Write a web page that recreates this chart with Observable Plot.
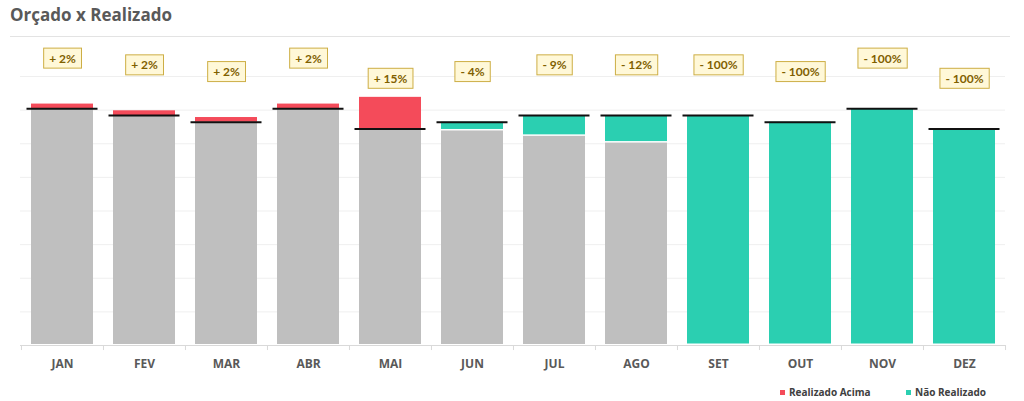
<!DOCTYPE html>
<html>
<head>
<meta charset="utf-8">
<script src="https://cdn.jsdelivr.net/npm/d3@7"></script>
<script src="https://cdn.jsdelivr.net/npm/@observablehq/plot@0.6"></script>
<style>
  html, body { margin: 0; padding: 0; background: #ffffff; }
  body { position: relative; width: 1024px; height: 401px; overflow: hidden; font-family: "Open Sans", sans-serif; }
  #title { position: absolute; left: 10px; top: 3px; font-size: 17px; line-height: 24px; font-weight: 700; color: #595959; }
  #rule { position: absolute; left: 10px; top: 36px; width: 1000px; height: 1px; background: #e3e3e3; }
  #chart { position: absolute; left: 0; top: 37px; }
  #legend { position: absolute; top: 384px; left: 0; width: 1024px; height: 16px; font-size: 10px; font-weight: 700; color: #404040; }
  .item { position: absolute; display: flex; align-items: center; line-height: 16px; }
  .sw { width: 5px; height: 5px; margin-right: 4px; }
</style>
</head>
<body>
<div id="title">Orçado x Realizado</div>
<div id="rule"></div>
<div id="chart"></div>
<div id="legend">
  <div class="item" style="left:780px"><span class="sw" style="background:#F44B5A"></span>Realizado Acima</div>
  <div class="item" style="left:906px"><span class="sw" style="background:#2BCFB1"></span>Não Realizado</div>
</div>
<script>
const meses = ["JAN","FEV","MAR","ABR","MAI","JUN","JUL","AGO","SET","OUT","NOV","DEZ"];
const orcado = [352, 342, 332, 352, 322, 332, 342, 342, 342, 332, 352, 322];
const realizado = [359, 349, 339, 359, 369, 319, 311, 301, 0, 0, 0, 0];
const rotulos = ["+ 2%","+ 2%","+ 2%","+ 2%","+ 15%","- 4%","- 9%","- 12%","- 100%","- 100%","- 100%","- 100%"];
const gradeY = [50, 100, 150, 200, 250, 300, 350, 400];

const dados = meses.map((m, i) => ({mes: m, orcado: orcado[i], realizado: realizado[i], rotulo: rotulos[i]}));
const base = dados.filter(d => d.realizado > 0).map(d => ({mes: d.mes, v: Math.min(d.orcado, d.realizado)}));
const acima = dados.filter(d => d.realizado > d.orcado);
const abaixo = dados.filter(d => d.realizado < d.orcado);

const W = 1024, H = 340, mL = 20, mR = 19;
const step = (W - mL - mR) / meses.length;

const plot = Plot.plot({
  width: W,
  height: H,
  marginLeft: mL,
  marginRight: mR,
  marginTop: 39,
  marginBottom: 32,
  style: {fontFamily: "Open Sans, sans-serif", background: "transparent"},
  x: {domain: meses, paddingInner: 0.245, paddingOuter: 0.1225, label: null},
  y: {domain: [0, 400], axis: null},
  marks: [
    Plot.ruleY(gradeY, {stroke: "#efefef", strokeWidth: 1}),
    Plot.barY(base, {x: "mes", y: "v", fill: "#BFBFBF", insetBottom: 1}),
    Plot.barY(acima, {x: "mes", y1: "orcado", y2: "realizado", fill: "#F44B5A"}),
    Plot.barY(abaixo, {x: "mes", y1: "realizado", y2: "orcado", fill: "#2BCFB1", insetBottom: 1.5}),
    Plot.ruleY([0], {stroke: "#d9d9d9", strokeWidth: 1}),
    Plot.ruleX(meses, {x: d => d, y1: 0, y2: -7.5, dx: -step / 2, stroke: "#d9d9d9"}),
    Plot.ruleX(meses.slice(-1), {x: d => d, y1: 0, y2: -7.5, dx: step / 2, stroke: "#d9d9d9"}),
    Plot.tickY(dados, {x: "mes", y: "orcado", stroke: "#111111", strokeWidth: 2, insetLeft: -4.5, insetRight: -4.5}),
    Plot.text(dados, {x: "mes", y: "orcado", dy: -50, text: "rotulo", fill: "#7F6000", fontWeight: "bold", fontSize: 12, fontFamily: "Lato, sans-serif", className: "rotulo"}),
    Plot.axisX({tickSize: 0, tickPadding: 14, fontSize: 12, fontWeight: "bold", fill: "#595959", label: null})
  ]
});
document.getElementById("chart").appendChild(plot);

// boxes behind the percentage labels
const ns = "http://www.w3.org/2000/svg";
plot.querySelectorAll("g.rotulo text, .rotulo text").forEach(t => {
  const b = t.getBBox();
  const tr = t.getAttribute("transform");
  const r = document.createElementNS(ns, "rect");
  const cy = b.y + b.height / 2;
  r.setAttribute("x", b.x - 5.5);
  r.setAttribute("y", cy - 10);
  r.setAttribute("width", b.width + 11);
  r.setAttribute("height", 20);
  r.setAttribute("fill", "#FFF8D8");
  r.setAttribute("stroke", "#CDAE45");
  r.setAttribute("stroke-width", 1);
  if (tr) r.setAttribute("transform", tr);
  t.parentNode.insertBefore(r, t);
});
</script>
</body>
</html>
